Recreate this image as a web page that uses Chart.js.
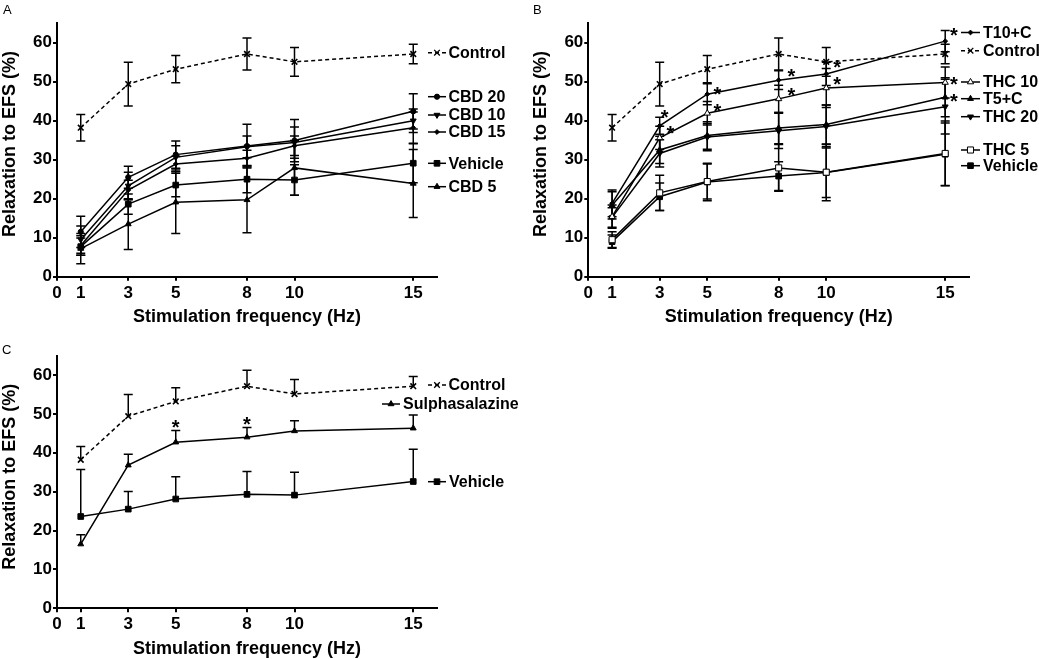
<!DOCTYPE html>
<html><head><meta charset="utf-8">
<script src="https://cdn.jsdelivr.net/npm/chart.js@4.4.0/dist/chart.umd.min.js"></script>
<style>
html,body{margin:0;padding:0;background:#fff;}
#wrap{position:relative;width:1039px;height:659px;overflow:hidden;background:#fff;}
canvas{position:absolute;}
</style></head><body>
<div id="wrap">
<canvas id="cA" width="520" height="330" style="left:0;top:0"></canvas>
<canvas id="cB" width="519" height="330" style="left:520px;top:0"></canvas>
<canvas id="cC" width="530" height="329" style="left:0;top:330px"></canvas>
</div>
<script>
// ---------- DATA ----------
const freqs = [1, 3, 5, 8, 10, 15];
const xTickValues = [0, 1, 3, 5, 8, 10, 15];
const yTickValues = [0, 10, 20, 30, 40, 50, 60];

const controlMean = [38.2, 49.4, 53.2, 57.1, 55.1, 57.1];
const controlSem  = [3.4, 5.6, 3.5, 4.1, 3.7, 2.5];

// Panel A
const cbd20Mean = [11.5, 25.5, 31.3, 33.5, 34.9, 42.4];
const cbd20Sem  = [4.0, 2.8, 3.5, 5.6, 5.4, 4.5];
const cbd10Mean = [9.5, 23.3, 30.6, 33.3, 34.4, 40.0];
const cbd10Sem  = [3.5, 3.5, 3.0, 2.8, 4.0, 3.0];
const cbd15Mean = [8.0, 22.2, 28.9, 30.4, 33.6, 38.2];
const cbd15Sem  = [2.5, 2.5, 2.0, 2.0, 2.5, 4.0];
const vehicleAMean = [7.7, 18.6, 23.5, 25.0, 24.8, 29.1];
const vehicleASem  = [2.2, 2.6, 3.0, 3.5, 3.9, 5.0];
const cbd5Mean = [7.2, 13.5, 19.1, 19.7, 27.9, 23.9];
const cbd5Sem  = [3.9, 6.5, 8.0, 8.4, 7.0, 8.7];

// Panel B
const t10cMean = [18.8, 38.7, 46.8, 50.4, 52.0, 60.4];
const t10cSem  = [3.4, 2.2, 2.7, 2.4, 3.0, 2.7];
const thc10Mean = [15.4, 35.6, 41.9, 45.6, 48.4, 49.8];
const thc10Sem  = [3.0, 3.0, 3.0, 3.5, 5.0, 4.0];
const t5cMean = [18.3, 32.5, 36.2, 38.1, 39.0, 46.0];
const t5cSem  = [3.5, 3.5, 3.5, 4.0, 5.0, 5.0];
const thc20Mean = [15.2, 31.6, 35.8, 37.4, 38.5, 43.6];
const thc20Sem  = [2.5, 3.5, 3.5, 4.5, 5.5, 7.0];
const thc5Mean = [9.5, 21.5, 24.4, 27.9, 26.8, 31.6];
const thc5Sem  = [2.0, 4.5, 4.5, 6.0, 6.5, 8.3];
const vehicleBMean = [9.0, 20.5, 24.3, 25.8, 26.7, 31.4];
const vehicleBSem  = [1.7, 3.5, 4.8, 3.7, 7.2, 8.0];

// Panel C
const sulphaMean = [16.5, 36.8, 42.7, 44.0, 45.6, 46.3];
const sulphaSem  = [2.4, 2.8, 3.0, 2.5, 2.6, 3.4];
const vehicleCMean = [23.6, 25.5, 28.1, 29.3, 29.1, 32.6];
const vehicleCSem  = [12.1, 4.5, 5.7, 5.9, 5.9, 8.3];

// ---------- STYLE / LAYOUT ----------
const FONT = "'Liberation Sans', Arial, Helvetica, sans-serif";
const XTITLE = 'Stimulation frequency (Hz)';
const YTITLE = 'Relaxation to EFS (%)';

const ST = {
  control: {style:'crossRot', r:4, fill:'#000', dash:[4,3], bw:1.6},
  circle:  {style:'circle', r:2.6, fill:'#000'},
  down:    {style:'triangle', r:3.4, rot:180, fill:'#000'},
  diamond: {style:'rectRot', r:2.4, fill:'#000'},
  square:  {style:'rect', r:4, fill:'#000'},
  up:      {style:'triangle', r:3.4, fill:'#000'},
  upOpen:  {style:'triangle', r:3.6, fill:'#fff'},
  sqOpen:  {style:'rect', r:4.3, fill:'#fff'},
};

function series(label, mean, sem, st) {
  return {
    label, sem, st,
    data: freqs.map((x, i) => ({x, y: mean[i]})),
    borderColor: '#000', borderWidth: 1.5, borderDash: st.dash || [],
    pointStyle: st.style, pointRadius: st.r, pointHoverRadius: st.r,
    pointRotation: st.rot || 0,
    pointBackgroundColor: st.fill, pointBorderColor: '#000', pointBorderWidth: st.bw || 1,
    fill: false, tension: 0
  };
}

function drawMarker(ctx, st, x, y) {
  const r = st.r;
  ctx.save();
  ctx.translate(x, y);
  if (st.rot) ctx.rotate(st.rot * Math.PI / 180);
  ctx.fillStyle = st.fill; ctx.strokeStyle = '#000'; ctx.lineWidth = 1; ctx.setLineDash([]);
  ctx.beginPath();
  if (st.style === 'circle') { ctx.arc(0, 0, r, 0, Math.PI * 2); ctx.fill(); ctx.stroke(); }
  else if (st.style === 'triangle') {
    for (let k = 0; k < 3; k++) { const a = -Math.PI/2 + k * 2*Math.PI/3; const px = Math.cos(a)*r, py = Math.sin(a)*r; k ? ctx.lineTo(px, py) : ctx.moveTo(px, py); }
    ctx.closePath(); ctx.fill(); ctx.stroke();
  } else if (st.style === 'rect') { const s = r * Math.SQRT1_2; ctx.rect(-s, -s, 2*s, 2*s); ctx.fill(); ctx.stroke(); }
  else if (st.style === 'rectRot') { ctx.moveTo(0,-r); ctx.lineTo(r,0); ctx.lineTo(0,r); ctx.lineTo(-r,0); ctx.closePath(); ctx.fill(); ctx.stroke(); }
  else if (st.style === 'crossRot') { const s = r * Math.SQRT1_2; ctx.lineWidth = 1.3; ctx.moveTo(-s,-s); ctx.lineTo(s,s); ctx.moveTo(-s,s); ctx.lineTo(s,-s); ctx.stroke(); }
  ctx.restore();
}

function makePlugin(cfg) {
  return {
    id: 'panelExtras',
    beforeDatasetsDraw(chart) {
      const ctx = chart.ctx, xs = chart.scales.x, ys = chart.scales.y, cap = 4.5;
      ctx.save(); ctx.strokeStyle = '#000'; ctx.lineWidth = 1.5; ctx.setLineDash([]);
      chart.data.datasets.forEach(ds => {
        ds.data.forEach((p, i) => {
          const e = ds.sem[i];
          const px = xs.getPixelForValue(p.x);
          const yT = ys.getPixelForValue(p.y + e);
          const yB = cfg.upOnly ? ys.getPixelForValue(p.y) : ys.getPixelForValue(p.y - e);
          ctx.beginPath();
          ctx.moveTo(px, yT); ctx.lineTo(px, yB);
          ctx.moveTo(px - cap, yT); ctx.lineTo(px + cap, yT);
          if (!cfg.upOnly) { ctx.moveTo(px - cap, yB); ctx.lineTo(px + cap, yB); }
          ctx.stroke();
        });
      });
      ctx.restore();
    },
    afterDraw(chart) {
      const ctx = chart.ctx, xs = chart.scales.x, ys = chart.scales.y, ca = chart.chartArea;
      ctx.save();
      ctx.fillStyle = '#000';
      // asterisks
      ctx.font = 'bold 20px ' + FONT; ctx.textAlign = 'center'; ctx.textBaseline = 'alphabetic';
      (cfg.stars || []).forEach(s => {
        const p = chart.data.datasets[s.ds].data[s.i];
        ctx.fillText('*', xs.getPixelForValue(p.x) + s.dx, ys.getPixelForValue(p.y) + s.dy + 11.5);
      });
      // legend
      cfg.legend.forEach(L => {
        const ds = chart.data.datasets[L.ds];
        ctx.save();
        ctx.strokeStyle = '#000'; ctx.lineWidth = 1.5; ctx.setLineDash(ds.st.dash || []);
        ctx.beginPath(); ctx.moveTo(L.x0, L.y); ctx.lineTo(L.x1, L.y); ctx.stroke();
        ctx.restore();
        drawMarker(ctx, ds.st, (L.x0 + L.x1) / 2, L.y);
        ctx.font = 'bold 16px ' + FONT; ctx.textAlign = 'left'; ctx.textBaseline = 'middle';
        ctx.fillText(ds.label, L.tx, L.y + 1);
        if (L.star) {
          ctx.font = 'bold 20px ' + FONT; ctx.textAlign = 'center'; ctx.textBaseline = 'alphabetic';
          ctx.fillText('*', cfg.starX, L.y - 2.5 + 11.5);
        }
      });
      // axis titles
      ctx.font = 'bold 18px ' + FONT; ctx.textAlign = 'center'; ctx.textBaseline = 'middle';
      ctx.fillText(XTITLE, (ca.left + ca.right) / 2, cfg.xTitleY);
      ctx.save(); ctx.translate(cfg.yTitleX, cfg.yTitleY); ctx.rotate(-Math.PI / 2);
      ctx.fillText(YTITLE, 0, 0); ctx.restore();
      // panel letter
      ctx.font = '13px ' + FONT; ctx.textAlign = 'left'; ctx.textBaseline = 'top';
      ctx.fillText(cfg.letter, cfg.letterX, cfg.letterY);
      ctx.restore();
    }
  };
}

function makeScales(yWidth, xHeight) {
  const tickFont = {family: FONT, size: 17, weight: 'bold'};
  return {
    x: {
      type: 'linear', min: 0, max: 16,
      afterBuildTicks: s => { s.ticks = xTickValues.map(v => ({value: v})); },
      afterFit: s => { s.height = xHeight; },
      grid: {display: true, drawOnChartArea: false, drawTicks: true, tickLength: 4, color: '#000', lineWidth: 2},
      border: {display: true, color: '#000', width: 2},
      ticks: {color: '#000', font: tickFont, padding: 2, maxRotation: 0, autoSkip: false}
    },
    y: {
      type: 'linear', min: 0, max: 65,
      afterBuildTicks: s => { s.ticks = yTickValues.map(v => ({value: v})); },
      afterFit: s => { s.width = yWidth; },
      grid: {display: true, drawOnChartArea: false, drawTicks: true, tickLength: 4, color: '#000', lineWidth: 2},
      border: {display: true, color: '#000', width: 2},
      ticks: {color: '#000', font: tickFont, padding: 1, autoSkip: false}
    }
  };
}

function makeChart(id, datasets, layout, cfg) {
  return new Chart(document.getElementById(id), {
    type: 'line',
    data: {datasets},
    options: {
      responsive: false, animation: false,
      layout: {padding: layout.padding},
      plugins: {legend: {display: false}, tooltip: {enabled: false}},
      scales: makeScales(layout.yWidth, layout.xHeight),
      events: []
    },
    plugins: [makePlugin(cfg)]
  });
}

// Panel A
makeChart('cA', [
  series('Control', controlMean, controlSem, ST.control),
  series('CBD 20', cbd20Mean, cbd20Sem, ST.circle),
  series('CBD 10', cbd10Mean, cbd10Sem, ST.down),
  series('CBD 15', cbd15Mean, cbd15Sem, ST.diamond),
  series('Vehicle', vehicleAMean, vehicleASem, ST.square),
  series('CBD 5', cbd5Mean, cbd5Sem, ST.up)
], {padding: {left: 0, top: 23.2, right: 83, bottom: 0}, yWidth: 57, xHeight: 53.3}, {
  letter: 'A', letterX: 3, letterY: 4, xTitleY: 317.5, yTitleX: 10, yTitleY: 144,
  legend: [
    {ds: 0, y: 52.7, x0: 428, x1: 446, tx: 448.5},
    {ds: 1, y: 96.7, x0: 428, x1: 446, tx: 448.5},
    {ds: 2, y: 115, x0: 428, x1: 446, tx: 448.5},
    {ds: 3, y: 132, x0: 428, x1: 446, tx: 448.5},
    {ds: 4, y: 163.3, x0: 428, x1: 446, tx: 448.5},
    {ds: 5, y: 186.7, x0: 428, x1: 446, tx: 448.5}
  ]
});

// Panel B
makeChart('cB', [
  series('Control', controlMean, controlSem, ST.control),
  series('T10+C', t10cMean, t10cSem, ST.diamond),
  series('THC 10', thc10Mean, thc10Sem, ST.upOpen),
  series('T5+C', t5cMean, t5cSem, ST.up),
  series('THC 20', thc20Mean, thc20Sem, ST.down),
  series('THC 5', thc5Mean, thc5Sem, ST.sqOpen),
  series('Vehicle', vehicleBMean, vehicleBSem, ST.square)
], {padding: {left: 0, top: 23.2, right: 70, bottom: 0}, yWidth: 68.3, xHeight: 53.3}, {
  letter: 'B', letterX: 13, letterY: 4, xTitleY: 317.5, yTitleX: 21.5, yTitleY: 144,
  starX: 434,
  stars: [
    {ds: 1, i: 1, dx: 5, dy: -13}, {ds: 1, i: 2, dx: 10, dy: -5},
    {ds: 1, i: 3, dx: 12.7, dy: -8.3}, {ds: 1, i: 4, dx: 11, dy: -11.3},
    {ds: 2, i: 1, dx: 10.6, dy: -9.4}, {ds: 2, i: 2, dx: 10, dy: -7},
    {ds: 2, i: 3, dx: 12.7, dy: -8.3}, {ds: 2, i: 4, dx: 11, dy: -8}
  ],
  legend: [
    {ds: 1, y: 32.5, x0: 441, x1: 460, tx: 463, star: true},
    {ds: 0, y: 50.7, x0: 441, x1: 460, tx: 463},
    {ds: 2, y: 82, x0: 441, x1: 460, tx: 463, star: true},
    {ds: 3, y: 98.7, x0: 441, x1: 460, tx: 463, star: true},
    {ds: 4, y: 116.7, x0: 441, x1: 460, tx: 463},
    {ds: 5, y: 150, x0: 441, x1: 460, tx: 463},
    {ds: 6, y: 165.7, x0: 441, x1: 460, tx: 463}
  ]
});

// Panel C
makeChart('cC', [
  series('Control', controlMean, controlSem, ST.control),
  series('Sulphasalazine', sulphaMean, sulphaSem, ST.up),
  series('Vehicle', vehicleCMean, vehicleCSem, ST.square)
], {padding: {left: 0, top: 25.5, right: 93, bottom: 0}, yWidth: 57, xHeight: 50.7}, {
  letter: 'C', letterX: 2, letterY: 14, xTitleY: 319, yTitleX: 10, yTitleY: 146.7,
  upOnly: true,
  stars: [{ds: 1, i: 2, dx: 0, dy: -19.6}, {ds: 1, i: 3, dx: 0, dy: -18}],
  legend: [
    {ds: 0, y: 55, x0: 428, x1: 446, tx: 448.5},
    {ds: 1, y: 74, x0: 382, x1: 400, tx: 403},
    {ds: 2, y: 151.7, x0: 428, x1: 446, tx: 449}
  ]
});
</script>
</body></html>
